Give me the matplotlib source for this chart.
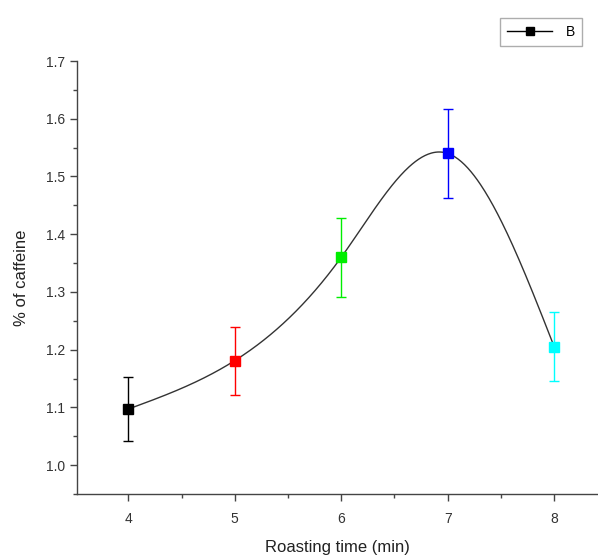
import numpy as np
import matplotlib
matplotlib.use("Agg")
import matplotlib.pyplot as plt
from matplotlib.lines import Line2D
from matplotlib.ticker import MultipleLocator, FormatStrFormatter

plt.rcParams['font.family'] = ['Liberation Sans', 'DejaVu Sans']

time_min = [4, 5, 6, 7, 8]
caffeine = [1.097, 1.181, 1.360, 1.540, 1.205]
caffeine_err = [0.055, 0.059, 0.068, 0.077, 0.060]
point_colors = ['#000000', '#ff0000', '#00ee00', '#0000ff', '#00ffff']


def natural_spline(x, y, xs):
    x = np.asarray(x, float); y = np.asarray(y, float)
    n = len(x)
    h = np.diff(x)
    A = np.zeros((n, n)); b = np.zeros(n)
    A[0, 0] = 1; A[-1, -1] = 1
    for i in range(1, n - 1):
        A[i, i - 1] = h[i - 1]
        A[i, i] = 2 * (h[i - 1] + h[i])
        A[i, i + 1] = h[i]
        b[i] = 3 * ((y[i + 1] - y[i]) / h[i] - (y[i] - y[i - 1]) / h[i - 1])
    c = np.linalg.solve(A, b)
    out = np.empty_like(xs)
    for k, xv in enumerate(xs):
        i = min(max(np.searchsorted(x, xv) - 1, 0), n - 2)
        dx = xv - x[i]
        bi = (y[i + 1] - y[i]) / h[i] - h[i] * (2 * c[i] + c[i + 1]) / 3
        di = (c[i + 1] - c[i]) / (3 * h[i])
        out[k] = y[i] + bi * dx + c[i] * dx ** 2 + di * dx ** 3
    return out


fig = plt.figure(figsize=(5.98, 5.55), dpi=100)
ax = fig.add_axes([0.129, 0.110, 0.869, 0.780])

xs = np.linspace(time_min[0], time_min[-1], 400)
ax.plot(xs, natural_spline(time_min, caffeine, xs), color='#333333', lw=1.0, zorder=2)

for x, y, e, c in zip(time_min, caffeine, caffeine_err, point_colors):
    ax.errorbar(x, y, yerr=e, fmt='s', color=c, ecolor=c, ms=6.5, elinewidth=1.0,
                capsize=3.8, capthick=1.0, zorder=3)

ax.set_xlim(3.52, 8.4)
ax.set_ylim(0.95, 1.7)
ax.xaxis.set_major_locator(MultipleLocator(1))
ax.xaxis.set_minor_locator(MultipleLocator(0.5))
ax.yaxis.set_major_locator(MultipleLocator(0.1))
ax.yaxis.set_minor_locator(MultipleLocator(0.05))
ax.yaxis.set_major_formatter(FormatStrFormatter('%.1f'))
for s in ['top', 'right']:
    ax.spines[s].set_visible(False)
for s in ['left', 'bottom']:
    ax.spines[s].set_color('#444444')
    ax.spines[s].set_linewidth(1.0)
ax.tick_params(which='major', direction='out', length=5, width=1, color='#444444',
               labelsize=10, labelcolor='#333333')
ax.tick_params(which='minor', direction='out', length=3, width=1, color='#444444')
ax.tick_params(axis='x', pad=8)
ax.set_xlabel('Roasting time (min)', fontsize=12, color='#222222', labelpad=10)
ax.set_ylabel('% of caffeine', fontsize=12, color='#222222', labelpad=12)

handle = Line2D([], [], color='black', marker='s', ms=5.5, lw=1.0)
leg = fig.legend([handle], ['B'], loc='upper right', bbox_to_anchor=(0.973, 0.968),
                 borderaxespad=0, frameon=True, fancybox=False, edgecolor='#999999',
                 fontsize=10, handlelength=3.2, borderpad=0.5, handletextpad=1.0)
for t in leg.get_texts():
    t.set_fontstretch('condensed')

fig.savefig('out.png', dpi=100)
